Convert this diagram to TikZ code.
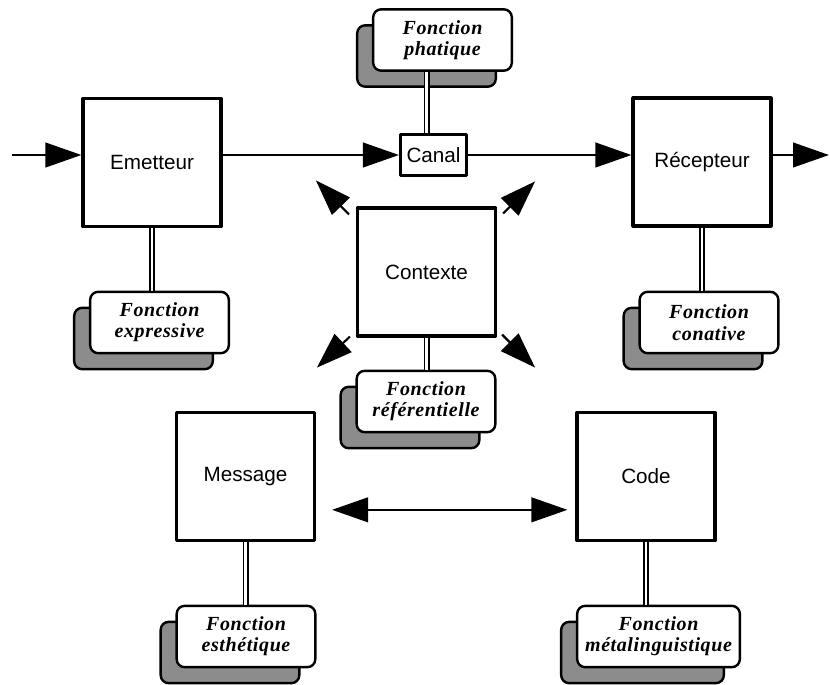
\documentclass[tikz,border=0pt]{standalone}
\usepackage{fontspec}
\setsansfont{Liberation Sans}
\newfontfamily\fnfont[LetterSpace=3]{Liberation Serif}
\usetikzlibrary{arrows.meta,shadows}

\begin{document}
\begin{tikzpicture}[x=.75pt, y=-.75pt, line join=round,
	box/.style={draw, line width=2.4pt, minimum width=103.5pt, minimum height=96pt, inner sep=0pt, font=\sffamily\fontsize{15.5}{18}\selectfont},
	fn/.style={draw, fill=white, line width=1.8pt, rounded corners=6pt, minimum width=104pt, minimum height=46pt, inner sep=0pt, align=center, font=\fnfont\bfseries\itshape\fontsize{15}{16}\selectfont,
		general shadow={draw, fill=black!45, line width=1.8pt, shadow xshift=-12pt, shadow yshift=-12pt}},
	link/.style={line width=1.2pt, double=white, double distance=2.1pt},
	arr/.style={line width=1.6pt, -{Triangle[length=27pt,width=18.5pt]}},
	darr/.style={line width=1.6pt, {Triangle[length=27pt,width=18.5pt]}-{Triangle[length=27pt,width=18.5pt]}}]
	\useasboundingbox (0,0) rectangle (830,684);
	% boites
	\node[box] (emet) at (152,162.5) {Emetteur};
	\node[box, minimum width=49.5pt, minimum height=30.75pt] (canal) at (433.5,155) {Canal};
	\node[box] (recep) at (702,162) {Récepteur};
	\node[box] (ctx) at (426.5,272) {Contexte};
	\node[box] (msg) at (245.5,476.5) {Message};
	\node[box] (code) at (646,476.5) {Code};
	% fonctions
	\node[fn] (phat) at (442.5,40) {Fonction\\phatique};
	\node[fn] (expr) at (159.5,322.5) {Fonction\\expressive};
	\node[fn] (conat) at (709,322.5) {Fonction\\conative};
	\node[fn] (refer) at (426,401.5) {Fonction\\référentielle};
	\node[fn] (esth) at (246,636.5) {Fonction\\esthétique};
	\node[fn, minimum width=122pt] (metal) at (658.5,636.5) {Fonction\\métalinguistique};
	% liens
	\draw[link] (phat.south -| ctx) -- (canal.north -| ctx);
	\foreach \a/\b in {emet/expr, recep/conat, ctx/refer, msg/esth, code/metal}
		\draw[link] (\a.south) -- (\b.north -| \a.south);
	% fleches
	\coordinate (in) at (12,155); \coordinate (out) at (829,155);
	\draw[arr] (in) -- (emet.west |- in);
	\draw[arr] (emet.east |- canal) -- (canal.west);
	\draw[arr] (canal.east) -- (recep.west |- canal);
	\draw[arr] (recep.east |- out) -- (out);
	\draw[darr] ([xshift=12pt,yshift=-25pt]msg.east) -- ([xshift=-6pt,yshift=-25pt]code.west);
	\foreach \c/\sx/\sy/\tx/\ty in {north west/-7/8/-40/-26, north east/6/7/38/-25, south west/-6/-1/-39/30, south east/5/-3/38/30}
		\draw[arr] ([shift={(\sx,\sy)}]ctx.\c) -- ([shift={(\tx,\ty)}]ctx.\c);
\end{tikzpicture}
\end{document}
